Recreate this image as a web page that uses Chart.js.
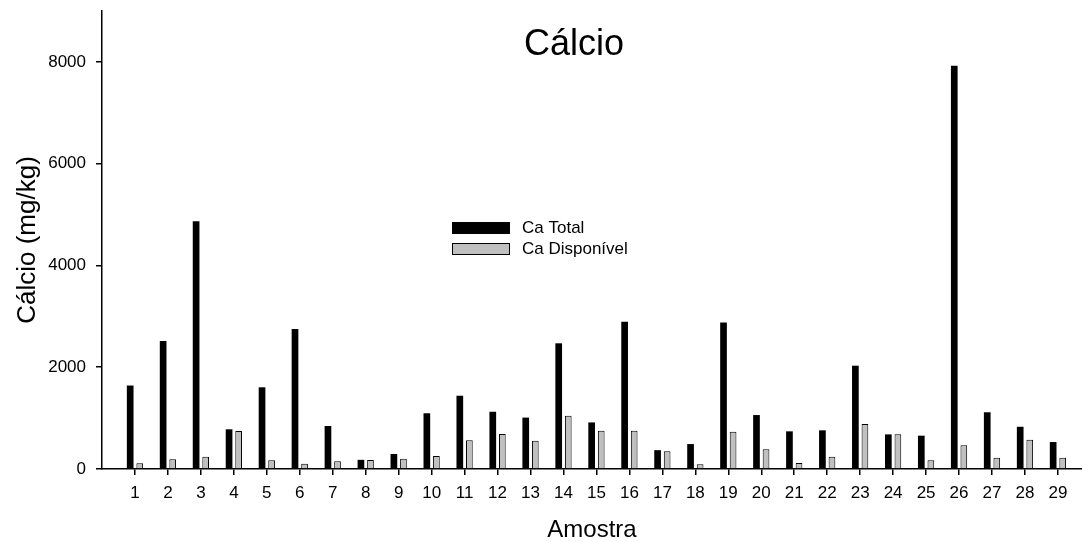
<!DOCTYPE html>
<html>
<head>
<meta charset="utf-8">
<script src="https://cdn.jsdelivr.net/npm/chart.js@4"></script>
<style>
  html, body { margin: 0; padding: 0; background: #fff; }
  #wrap { width: 1082px; height: 542px; }
</style>
</head>
<body>
<div id="wrap"><canvas id="myChart"></canvas></div>
<script>
// sample numbers (Amostra) and the two series
const categories = ['1','2','3','4','5','6','7','8','9','10','11','12','13','14','15',
  '16','17','18','19','20','21','22','23','24','25','26','27','28','29'];
const caTotal = [1640, 2515, 4870, 780, 1605, 2750, 845, 180, 295, 1095, 1440, 1125, 1010, 2470, 915,
  2895, 370, 490, 2880, 1060, 740, 760, 2030, 680, 655, 7925, 1115, 830, 530];
const caDisponivel = [112, 190, 242, 747, 170, 105, 150, 177, 203, 255, 564, 688, 556, 1047, 753,
  753, 347, 92, 733, 387, 118, 242, 884, 682, 170, 465, 222, 576, 222];
const yTicks = [0, 2000, 4000, 6000, 8000];

const FONT = "'Liberation Sans', Arial, sans-serif";
Chart.defaults.font.family = FONT;
Chart.defaults.color = '#000';

function points(values) {
  return values.map((v, i) => ({ x: i + 1, y: v }));
}

// title and legend sit inside the plot, so draw them by hand
const overlay = {
  id: 'overlay',
  afterDraw(chart) {
    const ctx = chart.ctx;
    ctx.save();
    ctx.fillStyle = '#000';
    ctx.font = '36px ' + FONT;
    ctx.textAlign = 'center';
    ctx.textBaseline = 'middle';
    ctx.fillText('Cálcio', 574, 45);

    ctx.font = '17px ' + FONT;
    ctx.textAlign = 'left';
    chart.data.datasets.forEach(function(ds, i) {
      const y = 222 + i * 21;
      ctx.fillStyle = ds.backgroundColor;
      ctx.fillRect(452, y, 58, 12);
      ctx.strokeStyle = '#000';
      ctx.lineWidth = 1;
      ctx.strokeRect(452.5, y + 0.5, 57, 11);
      ctx.fillStyle = '#000';
      ctx.fillText(ds.label, 522, y + 6);
    });
    ctx.restore();
  }
};

var ctx = document.getElementById('myChart').getContext('2d');
var chart = new Chart(ctx, {
  type: 'bar',
  data: {
    datasets: [{
      label: 'Ca Total',
      data: points(caTotal),
      backgroundColor: '#000000',
      borderWidth: 0
    }, {
      label: 'Ca Disponível',
      data: points(caDisponivel),
      backgroundColor: '#c0c0c0',
      borderColor: '#000000',
      borderWidth: 1
    }]
  },
  options: {
    responsive: true,
    maintainAspectRatio: false,
    animation: false,
    categoryPercentage: 0.58,
    barPercentage: 0.7,
    layout: { padding: { top: 11, right: 0, left: 0, bottom: 0 } },
    plugins: {
      legend: { display: false },
      tooltip: { enabled: false }
    },
    scales: {
      x: {
        type: 'linear',
        offset: false,
        min: 0,
        max: 29.73,
        afterBuildTicks: function(s) {
          s.ticks = categories.map((c, i) => ({ value: i + 1 }));
        },
        afterFit: function(s) { s.height = 73; },
        ticks: {
          autoSkip: false,
          maxRotation: 0,
          padding: 8,
          font: { size: 17 },
          callback: function(v) { return categories[v - 1]; }
        },
        grid: { display: true, offset: false, drawOnChartArea: false, drawTicks: true, tickLength: 6, color: '#000', lineWidth: 1.5 },
        border: { display: true, color: '#000', width: 1.5 },
        title: { display: true, text: 'Amostra', font: { size: 24, lineHeight: 1 }, padding: { top: 0, bottom: 0 } }
      },
      y: {
        min: 0,
        max: 9000,
        afterBuildTicks: function(s) {
          s.ticks = yTicks.map(v => ({ value: v }));
        },
        afterFit: function(s) {
          s.width = 102;
          s.paddingTop = 0;
          s.paddingBottom = 0;
        },
        ticks: { padding: 10, font: { size: 17 }, callback: function(v) { return String(v); } },
        grid: { display: true, drawOnChartArea: false, drawTicks: true, tickLength: 6, color: '#000', lineWidth: 1.5 },
        border: { display: true, color: '#000', width: 1.5 },
        title: { display: true, text: 'Cálcio (mg/kg)', font: { size: 26 }, padding: { top: 12, bottom: 0 } }
      }
    }
  },
  plugins: [overlay]
});
</script>
</body>
</html>
